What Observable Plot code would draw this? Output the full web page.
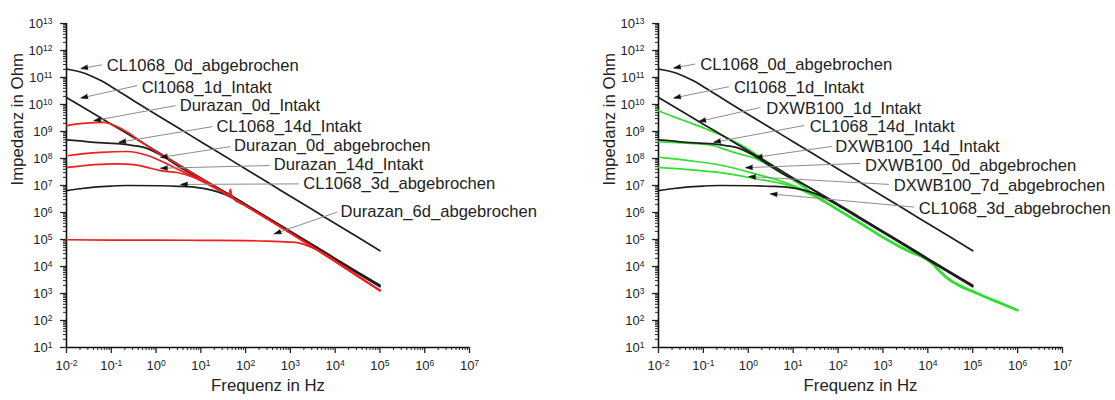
<!DOCTYPE html>
<html><head><meta charset="utf-8">
<script src="https://cdn.jsdelivr.net/npm/d3@7"></script>
<script src="https://cdn.jsdelivr.net/npm/@observablehq/plot@0.6"></script>
<style>
body{margin:0;background:#fff;}
#wrap{display:flex;width:1115px;height:400px;overflow:hidden;}
</style></head><body><div id="wrap"></div>
<script>
// Values: [log10 frequency (Hz), log10 impedance (Ohm)]
const CL1068_0d_abgebrochen = [[-2,11.31],[-1.8,11.25],[-1.6,11.16],[-1.4,11.02],[-1.2,10.86],[-1.0,10.66],[-0.5,10.14],[0,9.63],[0.5,9.13],[1,8.62],[1.5,8.12],[2,7.61],[2.5,7.11],[3,6.60],[3.5,6.10],[4,5.59],[4.5,5.09],[5,4.58]];
const Cl1068_1d_Intakt = [[-2,10.26],[-1.5,9.77],[-1,9.27],[-0.5,8.78],[0,8.28],[0.5,7.78],[1,7.28],[1.5,6.78],[2,6.28],[2.5,5.78],[3,5.28],[3.5,4.78],[4,4.27],[4.5,3.77],[5,3.28]];
const CL1068_14d_Intakt = [[-2,8.69],[-1.7,8.65],[-1.38,8.60],[-1.1,8.57],[-0.79,8.54],[-0.5,8.48],[-0.27,8.41],[0.1,8.13],[0.55,7.66],[0.85,7.36],[1.2,7.07],[1.5,6.80],[2,6.31],[2.5,5.81],[3,5.31],[3.5,4.81],[4,4.30],[4.5,3.80],[5,3.31]];
const CL1068_3d_abgebrochen = [[-2,6.81],[-1.7,6.88],[-1.38,6.94],[-1,6.98],[-0.64,7.0],[0.1,6.99],[0.5,6.97],[0.85,6.94],[1.22,6.84],[1.51,6.69],[1.8,6.45],[2,6.26],[2.5,5.76],[3,5.26],[3.5,4.76],[4,4.25],[4.5,3.75],[5,3.25]];

const Durazan_0d_Intakt = [[-2,9.22],[-1.7,9.29],[-1.4,9.33],[-1.16,9.34],[-0.9,9.2],[-0.64,8.97],[-0.4,8.70],[0,8.26],[0.5,7.76],[1,7.26],[1.5,6.76],[2,6.25],[2.5,5.75],[3,5.24],[3.5,4.72],[4,4.19],[4.5,3.65],[5,3.12]];
const Durazan_0d_abgebrochen = [[-1.95,8.11],[-1.6,8.18],[-1.24,8.23],[-0.64,8.26],[-0.19,8.11],[0.25,7.80],[0.7,7.43],[1.14,7.06],[1.5,6.74],[1.62,6.63],[1.66,6.86],[1.7,6.56],[2,6.25],[2.5,5.75],[3,5.24],[3.5,4.72],[4,4.19],[4.5,3.65],[5,3.11]];
const Durazan_14d_Intakt = [[-1.98,7.67],[-1.7,7.72],[-1.38,7.77],[-0.86,7.80],[-0.5,7.77],[-0.27,7.70],[0.1,7.55],[0.47,7.48],[0.85,7.30],[1.22,7.01],[1.5,6.75],[2,6.25],[2.5,5.75],[3,5.24],[3.5,4.71],[4,4.18],[4.5,3.64],[5,3.11]];
const Durazan_6d_abgebrochen = [[-2,4.99],[-1,4.98],[0,4.98],[1,4.97],[2,4.96],[2.5,4.94],[3.07,4.90],[3.3,4.82],[3.45,4.72],[3.65,4.57],[3.82,4.41],[4.2,4.0],[4.6,3.55],[5,3.10]];

const DXWB100_1d_Intakt = [[-2,9.77],[-1.67,9.55],[-1.33,9.34],[-0.95,9.10],[-0.58,8.85],[-0.14,8.48],[0.16,8.17],[0.5,7.80],[0.9,7.36],[1.2,7.0],[1.5,6.62],[2,6.10],[2.5,5.60],[3,5.08],[3.3,4.80],[3.6,4.55],[3.9,4.34],[4.06,4.17],[4.25,3.86],[4.43,3.58],[4.7,3.30],[5.02,3.07],[5.3,2.86],[5.54,2.70],[5.8,2.52],[6,2.38]];
const DXWB100_14d_Intakt = [[-2,8.62],[-1.6,8.59],[-1.2,8.55],[-0.84,8.50],[-0.51,8.33],[-0.2,8.17],[0.16,8.0],[0.5,7.70],[1,7.20],[1.5,6.64],[2,6.12],[2.5,5.62],[3,5.10],[3.3,4.82],[3.6,4.57],[3.9,4.36],[4.06,4.19],[4.25,3.88],[4.43,3.60],[4.7,3.32],[5.02,3.09],[5.3,2.88],[5.54,2.72],[5.8,2.54],[6,2.40]];
const DXWB100_0d_abgebrochen = [[-1.95,8.04],[-1.33,7.92],[-0.58,7.74],[0.16,7.43],[0.9,7.06],[1.3,6.78],[1.65,6.45],[2,6.08],[2.5,5.58],[3,5.06],[3.3,4.78],[3.6,4.53],[3.9,4.32],[4.06,4.15],[4.25,3.83],[4.43,3.55],[4.7,3.27],[5.02,3.04],[5.3,2.84],[5.54,2.68],[5.8,2.50],[6,2.36]];
const DXWB100_7d_abgebrochen = [[-2,7.67],[-1.33,7.59],[-0.58,7.47],[0.16,7.25],[0.9,7.0],[1.43,6.63],[1.7,6.38],[2,6.09],[2.5,5.59],[3,5.07],[3.3,4.79],[3.6,4.54],[3.9,4.33],[4.06,4.16],[4.25,3.85],[4.43,3.57],[4.7,3.29],[5.02,3.06],[5.3,2.85],[5.54,2.69],[5.8,2.51],[6,2.37]];

// Axis ticks (exponents)
const xExponents = [-2,-1,0,1,2,3,4,5,6,7];
const yExponents = [1,2,3,4,5,6,7,8,9,10,11,12,13];
const xTitle = "Frequenz in Hz";
const yTitle = "Impedanz in Ohm";

// Annotations (text and leader lines), log10 coordinates
const leftLabels = ["CL1068_0d_abgebrochen","Cl1068_1d_Intakt","Durazan_0d_Intakt","CL1068_14d_Intakt","Durazan_0d_abgebrochen","Durazan_14d_Intakt","CL1068_3d_abgebrochen","Durazan_6d_abgebrochen"];
const leftLabelPos = [[-1.10,11.44],[-0.32,10.63],[0.53,9.96],[1.35,9.16],[1.74,8.48],[2.63,7.76],[3.29,7.07],[4.12,6.04]];
const leftArrowFrom = [[-1.21,11.47],[-0.42,10.70],[0.44,9.96],[1.26,9.18],[1.66,8.44],[2.54,7.74],[3.19,7.06],[4.04,6.01]];
const leftArrowTo = [[-1.68,11.33],[-1.68,10.24],[-1.39,9.40],[-0.83,8.60],[0.10,8.04],[0.10,7.64],[0.55,7.04],[2.64,5.21]];

const rightLabels = ["CL1068_0d_abgebrochen","Cl1068_1d_Intakt","DXWB100_1d_Intakt","CL1068_14d_Intakt","DXWB100_14d_Intakt","DXWB100_0d_abgebrochen","DXWB100_7d_abgebrochen","CL1068_3d_abgebrochen"];
const rightLabelPos = [[-1.07,11.46],[-0.32,10.63],[0.40,9.86],[1.37,9.18],[1.94,8.45],[2.60,7.74],[3.24,7.00],[3.80,6.14]];
const rightArrowFrom = [[-1.18,11.50],[-0.43,10.66],[0.27,9.89],[1.24,9.22],[1.87,8.45],[2.50,7.82],[3.13,7.04],[3.69,6.20]];
const rightArrowTo = [[-1.66,11.35],[-1.66,10.24],[-1.10,9.37],[-0.77,8.60],[0.16,8.04],[-0.06,7.66],[0.01,7.33],[0.49,6.69]];

const BLACK = "#1e1e1e", RED = "#f21d1d", GREEN = "#2fe02f";
const FONT = "Liberation Sans, Arial, Helvetica, sans-serif";

const toRows = (arr, name) => arr.map(([lf, lz]) => ({f: 10 ** lf, z: 10 ** lz, name}));

function panel({width, ml, mr, groups, labels, labelPos, from, to}) {
  const H = 400, mt = 23, mb = 53;
  const kx = (width - ml - mr) / 9, ky = (H - mt - mb) / 12;
  const ann = labels.map((t, i) => ({
    text: t,
    tx: 10 ** labelPos[i][0], ty: 10 ** labelPos[i][1],
    x1: 10 ** from[i][0], y1: 10 ** from[i][1],
    x2: 10 ** to[i][0], y2: 10 ** to[i][1],
    angle: Math.atan2((to[i][0] - from[i][0]) * kx, (to[i][1] - from[i][1]) * ky) * 180 / Math.PI
  }));
  const majorX = xExponents.map(e => 10 ** e);
  const majorY = yExponents.map(e => 10 ** e);
  const minorX = [], minorY = [];
  for (let e = -2; e < 7; e++) for (let m = 2; m < 10; m++) minorX.push(m * 10 ** e);
  for (let e = 1; e < 13; e++) for (let m = 2; m < 10; m++) minorY.push(m * 10 ** e);
  const fmt = d => `10^${Math.round(Math.log10(d))}`;
  const lineMarks = groups.map(g => Plot.line(g.rows, {x: "f", y: "z", z: "name", stroke: g.color, strokeWidth: 1.7, curve: "monotone-x"}));
  const svg = Plot.plot({
    width, height: H, marginLeft: ml, marginRight: mr, marginTop: mt, marginBottom: mb,
    style: {fontFamily: FONT, fontSize: "13px", color: "#222", background: "white", overflow: "visible"},
    x: {type: "log", domain: [1e-2, 1e7]},
    y: {type: "log", domain: [1e1, 1e13]},
    marks: [
      Plot.axisX(minorX, {tickSize: 3, tickFormat: () => "", label: null, strokeWidth: 1}),
      Plot.axisY(minorY, {tickSize: 3, tickFormat: () => "", label: null, strokeWidth: 1}),
      Plot.axisX(majorX, {tickSize: 6, tickPadding: 7, tickFormat: fmt, label: null, strokeWidth: 1.3}),
      Plot.axisY(majorY, {tickSize: 6, tickPadding: 8, tickFormat: fmt, label: null, strokeWidth: 1.3}),
      Plot.ruleY([1e1], {stroke: "#111", strokeWidth: 1.6}),
      Plot.ruleX([1e-2], {stroke: "#111", strokeWidth: 1.6}),
      ...lineMarks,
      Plot.link(ann, {x1: "x1", y1: "y1", x2: "x2", y2: "y2", stroke: "#8c8c8c", strokeWidth: 1}),
      Plot.vector(ann, {x: "x2", y: "y2", rotate: "angle", length: 7, shape: "spike", r: 2.3, anchor: "end", fill: "#111", stroke: "#111", strokeWidth: 0.6}),
      Plot.text(ann, {x: "tx", y: "ty", text: "text", textAnchor: "start", lineAnchor: "middle", fontSize: 16.6, fill: "#222"}),
      Plot.text([yTitle], {text: d => d, frameAnchor: "left", dx: -49, rotate: -90, fontSize: 16.8, fill: "#222"}),
      Plot.text([xTitle], {text: d => d, frameAnchor: "bottom", dy: 43, fontSize: 16.8, fill: "#222"})
    ]
  });
  // render exponents as raised text
  svg.querySelectorAll("text").forEach(t => {
    const m = /^10\^(-?\d+)$/.exec(t.textContent);
    if (!m) return;
    t.textContent = "10";
    t.style.fontSize = "13px";
    const ts = document.createElementNS("http://www.w3.org/2000/svg", "tspan");
    ts.setAttribute("dy", "-0.45em");
    ts.style.fontSize = "8.5px";
    ts.textContent = m[1];
    t.appendChild(ts);
  });
  return svg;
}

const blackRows = [
  ...toRows(CL1068_0d_abgebrochen, "CL1068_0d_abgebrochen"),
  ...toRows(Cl1068_1d_Intakt, "Cl1068_1d_Intakt"),
  ...toRows(CL1068_14d_Intakt, "CL1068_14d_Intakt"),
  ...toRows(CL1068_3d_abgebrochen, "CL1068_3d_abgebrochen")
];
const redRows = [
  ...toRows(Durazan_0d_Intakt, "Durazan_0d_Intakt"),
  ...toRows(Durazan_0d_abgebrochen, "Durazan_0d_abgebrochen"),
  ...toRows(Durazan_14d_Intakt, "Durazan_14d_Intakt"),
  ...toRows(Durazan_6d_abgebrochen, "Durazan_6d_abgebrochen")
];
const greenRows = [
  ...toRows(DXWB100_1d_Intakt, "DXWB100_1d_Intakt"),
  ...toRows(DXWB100_14d_Intakt, "DXWB100_14d_Intakt"),
  ...toRows(DXWB100_0d_abgebrochen, "DXWB100_0d_abgebrochen"),
  ...toRows(DXWB100_7d_abgebrochen, "DXWB100_7d_abgebrochen")
];

const wrap = document.getElementById("wrap");
wrap.appendChild(panel({
  width: 557, ml: 66, mr: 88,
  groups: [{rows: blackRows, color: BLACK}, {rows: redRows, color: RED}],
  labels: leftLabels, labelPos: leftLabelPos, from: leftArrowFrom, to: leftArrowTo
}));
wrap.appendChild(panel({
  width: 558, ml: 101, mr: 53,
  groups: [{rows: greenRows, color: GREEN}, {rows: blackRows, color: BLACK}],
  labels: rightLabels, labelPos: rightLabelPos, from: rightArrowFrom, to: rightArrowTo
}));
</script></body></html>
